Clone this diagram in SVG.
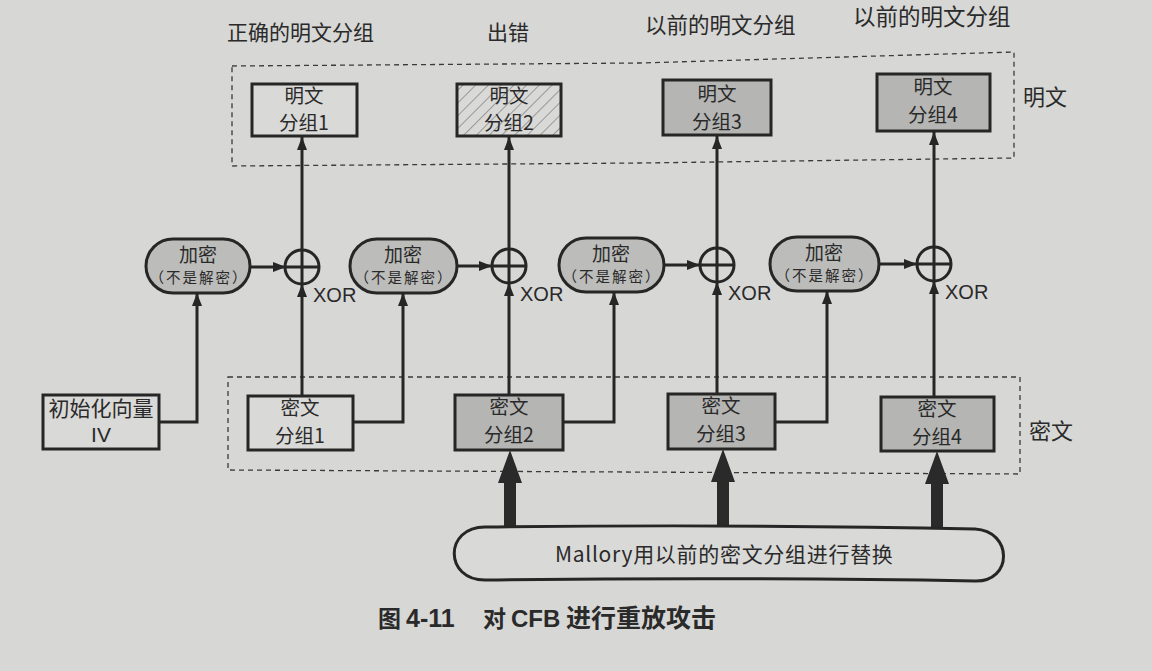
<svg xmlns="http://www.w3.org/2000/svg" width="1152" height="671" viewBox="0 0 1152 671">
<style>
  text { font-family: "Noto Sans CJK SC", "Liberation Sans", sans-serif; fill: #2a2a2a; }
  .lbl { font-size: 21px; }
  .bt { font-size: 19.5px; text-anchor: middle; }
  .et { font-size: 19px; text-anchor: middle; }
  .sm { font-size: 14.5px; text-anchor: middle; letter-spacing: 2px; }
  .xor { font-family: "Liberation Sans", "Noto Sans CJK SC", sans-serif; font-size: 20px; }
  .box { stroke: #262626; stroke-width: 3; fill: #d9d9d7; }
  .gbox { stroke: #262626; stroke-width: 3; fill: #b5b5b3; }
  .oval { stroke: #262626; stroke-width: 3; fill: #bcbcba; }
  .dash { fill: none; stroke: #3a3a3a; stroke-width: 1.3; stroke-dasharray: 5 4; }
  .ln { fill: none; stroke: #262626; stroke-width: 3; }
  .xc { fill: none; stroke: #262626; stroke-width: 3; }
  .thick { fill: #2a2a2a; stroke: none; }
  .cap { font-weight: bold; }
</style>
<defs>
  <marker id="arr" viewBox="0 0 13 10" refX="13" refY="5" markerWidth="13" markerHeight="10" orient="auto" markerUnits="userSpaceOnUse">
    <path d="M0,0 L13,5 L0,10 Z" fill="#262626"/>
  </marker>
  <pattern id="hatch" width="9" height="9" patternUnits="userSpaceOnUse" patternTransform="rotate(45)">
    <rect width="9" height="9" fill="#d9d9d7"/>
    <line x1="0" y1="0" x2="0" y2="9" stroke="#6e6e6e" stroke-width="1.2"/>
  </pattern>
</defs>
<rect width="1152" height="671" fill="#d7d7d5"/>

<g id="top-labels">
  <text class="lbl" x="227" y="40">正确的明文分组</text>
  <text class="lbl" x="487" y="40">出错</text>
  <text class="lbl" x="645" y="33" style="font-size:21.5px">以前的明文分组</text>
  <text class="lbl" x="853" y="25" style="font-size:22.5px">以前的明文分组</text>
</g>

<g id="plain-group">
  <path class="dash" d="M232,66 L640,63 L1014,52 L1014,158 L640,163 L232,166 Z"/>
  <text x="1023" y="105" style="font-size:22px">明文</text>
</g>

<g id="cipher-group">
  <path class="dash" d="M228,377 L1020,377 L1020,474 L228,470 Z"/>
  <text x="1029" y="439" style="font-size:22px">密文</text>
</g>

<g id="connectors">
  <path class="ln" d="M159,422 H197 V293" marker-end="url(#arr)"/>
  <path class="ln" d="M353,422 H403 V293" marker-end="url(#arr)"/>
  <path class="ln" d="M563,422 H614 V292" marker-end="url(#arr)"/>
  <path class="ln" d="M775,422 H827 V291" marker-end="url(#arr)"/>
  <path class="ln" d="M250,267 H286" marker-end="url(#arr)"/>
  <path class="ln" d="M457,266 H492" marker-end="url(#arr)"/>
  <path class="ln" d="M664,265 H700" marker-end="url(#arr)"/>
  <path class="ln" d="M879,264 H917" marker-end="url(#arr)"/>
  <path class="ln" d="M302,396 V284" marker-end="url(#arr)"/>
  <path class="ln" d="M509,395 V283" marker-end="url(#arr)"/>
  <path class="ln" d="M717,394 V282" marker-end="url(#arr)"/>
  <path class="ln" d="M934,397 V281" marker-end="url(#arr)"/>
  <path class="ln" d="M302,250 V137" marker-end="url(#arr)"/>
  <path class="ln" d="M509,249 V137" marker-end="url(#arr)"/>
  <path class="ln" d="M717,248 V136" marker-end="url(#arr)"/>
  <path class="ln" d="M934,247 V132" marker-end="url(#arr)"/>
  <path class="thick" d="M504,528 V483 H498 L510,450 L522,483 H516 V528 Z"/>
  <path class="thick" d="M717,528 V482 H711 L723,449 L735,482 H729 V528 Z"/>
  <path class="thick" d="M931,528 V484 H925 L937,451 L949,484 H943 V528 Z"/>
</g>

<g id="plain1">
  <rect class="box" x="252" y="84" width="105" height="52"/>
  <text class="bt" x="304" y="103">明文</text>
  <text class="bt" x="304" y="130">分组1</text>
</g>
<g id="plain2">
  <rect x="457" y="84" width="104" height="52" fill="url(#hatch)" stroke="#262626" stroke-width="3"/>
  <text class="bt" x="509" y="103">明文</text>
  <text class="bt" x="509" y="130">分组2</text>
</g>
<g id="plain3">
  <rect class="gbox" x="663" y="80" width="108" height="55"/>
  <text class="bt" x="717" y="101">明文</text>
  <text class="bt" x="717" y="129">分组3</text>
</g>
<g id="plain4">
  <rect class="gbox" x="877" y="74" width="113" height="57"/>
  <text class="bt" x="933" y="94">明文</text>
  <text class="bt" x="933" y="122">分组4</text>
</g>

<g id="enc1">
  <rect class="oval" x="146" y="239" width="104" height="54" rx="27"/>
  <text class="et" x="198" y="262">加密</text>
  <text class="sm" x="199" y="283">（不是解密）</text>
</g>
<g id="enc2">
  <rect class="oval" x="350" y="239" width="107" height="54" rx="27"/>
  <text class="et" x="403" y="262">加密</text>
  <text class="sm" x="404" y="283">（不是解密）</text>
</g>
<g id="enc3">
  <rect class="oval" x="559" y="238" width="105" height="54" rx="27"/>
  <text class="et" x="611" y="261">加密</text>
  <text class="sm" x="612" y="282">（不是解密）</text>
</g>
<g id="enc4">
  <rect class="oval" x="770" y="237" width="109" height="54" rx="27"/>
  <text class="et" x="824" y="260">加密</text>
  <text class="sm" x="825" y="281">（不是解密）</text>
</g>

<g id="xor1">
  <circle class="xc" cx="302" cy="267" r="17"/>
  <path class="xc" d="M285,267 H319 M302,250 V284"/>
  <text class="xor" x="313" y="302">XOR</text>
</g>
<g id="xor2">
  <circle class="xc" cx="509" cy="266" r="17"/>
  <path class="xc" d="M492,266 H526 M509,249 V283"/>
  <text class="xor" x="520" y="301">XOR</text>
</g>
<g id="xor3">
  <circle class="xc" cx="717" cy="265" r="17"/>
  <path class="xc" d="M700,265 H734 M717,248 V282"/>
  <text class="xor" x="728" y="300">XOR</text>
</g>
<g id="xor4">
  <circle class="xc" cx="934" cy="264" r="17"/>
  <path class="xc" d="M917,264 H951 M934,247 V281"/>
  <text class="xor" x="945" y="299">XOR</text>
</g>

<g id="iv">
  <rect class="box" x="43" y="395" width="116" height="54"/>
  <text class="bt" x="101" y="416" style="font-size:21px">初始化向量</text>
  <text class="bt" x="101" y="442" style="font-family:'Liberation Sans',sans-serif;font-size:21px">IV</text>
</g>
<g id="cipher1">
  <rect class="box" x="248" y="396" width="105" height="54"/>
  <text class="bt" x="300" y="415">密文</text>
  <text class="bt" x="300" y="443">分组1</text>
</g>
<g id="cipher2">
  <rect class="gbox" x="455" y="395" width="108" height="55"/>
  <text class="bt" x="509" y="414">密文</text>
  <text class="bt" x="509" y="442">分组2</text>
</g>
<g id="cipher3">
  <rect class="gbox" x="668" y="394" width="107" height="55"/>
  <text class="bt" x="721" y="413">密文</text>
  <text class="bt" x="721" y="441">分组3</text>
</g>
<g id="cipher4">
  <rect class="gbox" x="881" y="397" width="113" height="54"/>
  <text class="bt" x="937" y="416">密文</text>
  <text class="bt" x="937" y="444">分组4</text>
</g>

<g id="mallory">
  <path d="M485,527 Q740,524 975,529 C1013,531 1013,582 975,581 Q740,577 485,580 C444,580 444,527 485,527 Z" fill="#d9d9d7" stroke="#262626" stroke-width="3"/>
  <text x="555" y="562" style="font-size:21px;letter-spacing:0.7px">Mallory用以前的密文分组进行替换</text>
</g>

<g id="caption">
  <text class="cap" x="378" y="627" style="font-size:23px">图</text>
  <text class="cap" x="406" y="627" style="font-family:'Liberation Sans',sans-serif;font-size:25px">4-11</text>
  <text class="cap" x="483" y="627" style="font-size:23px">对</text>
  <text class="cap" x="511" y="627" style="font-family:'Liberation Sans',sans-serif;font-size:24px">CFB</text>
  <text class="cap" x="566" y="627" style="font-size:25px">进行重放攻击</text>
</g>
</svg>
